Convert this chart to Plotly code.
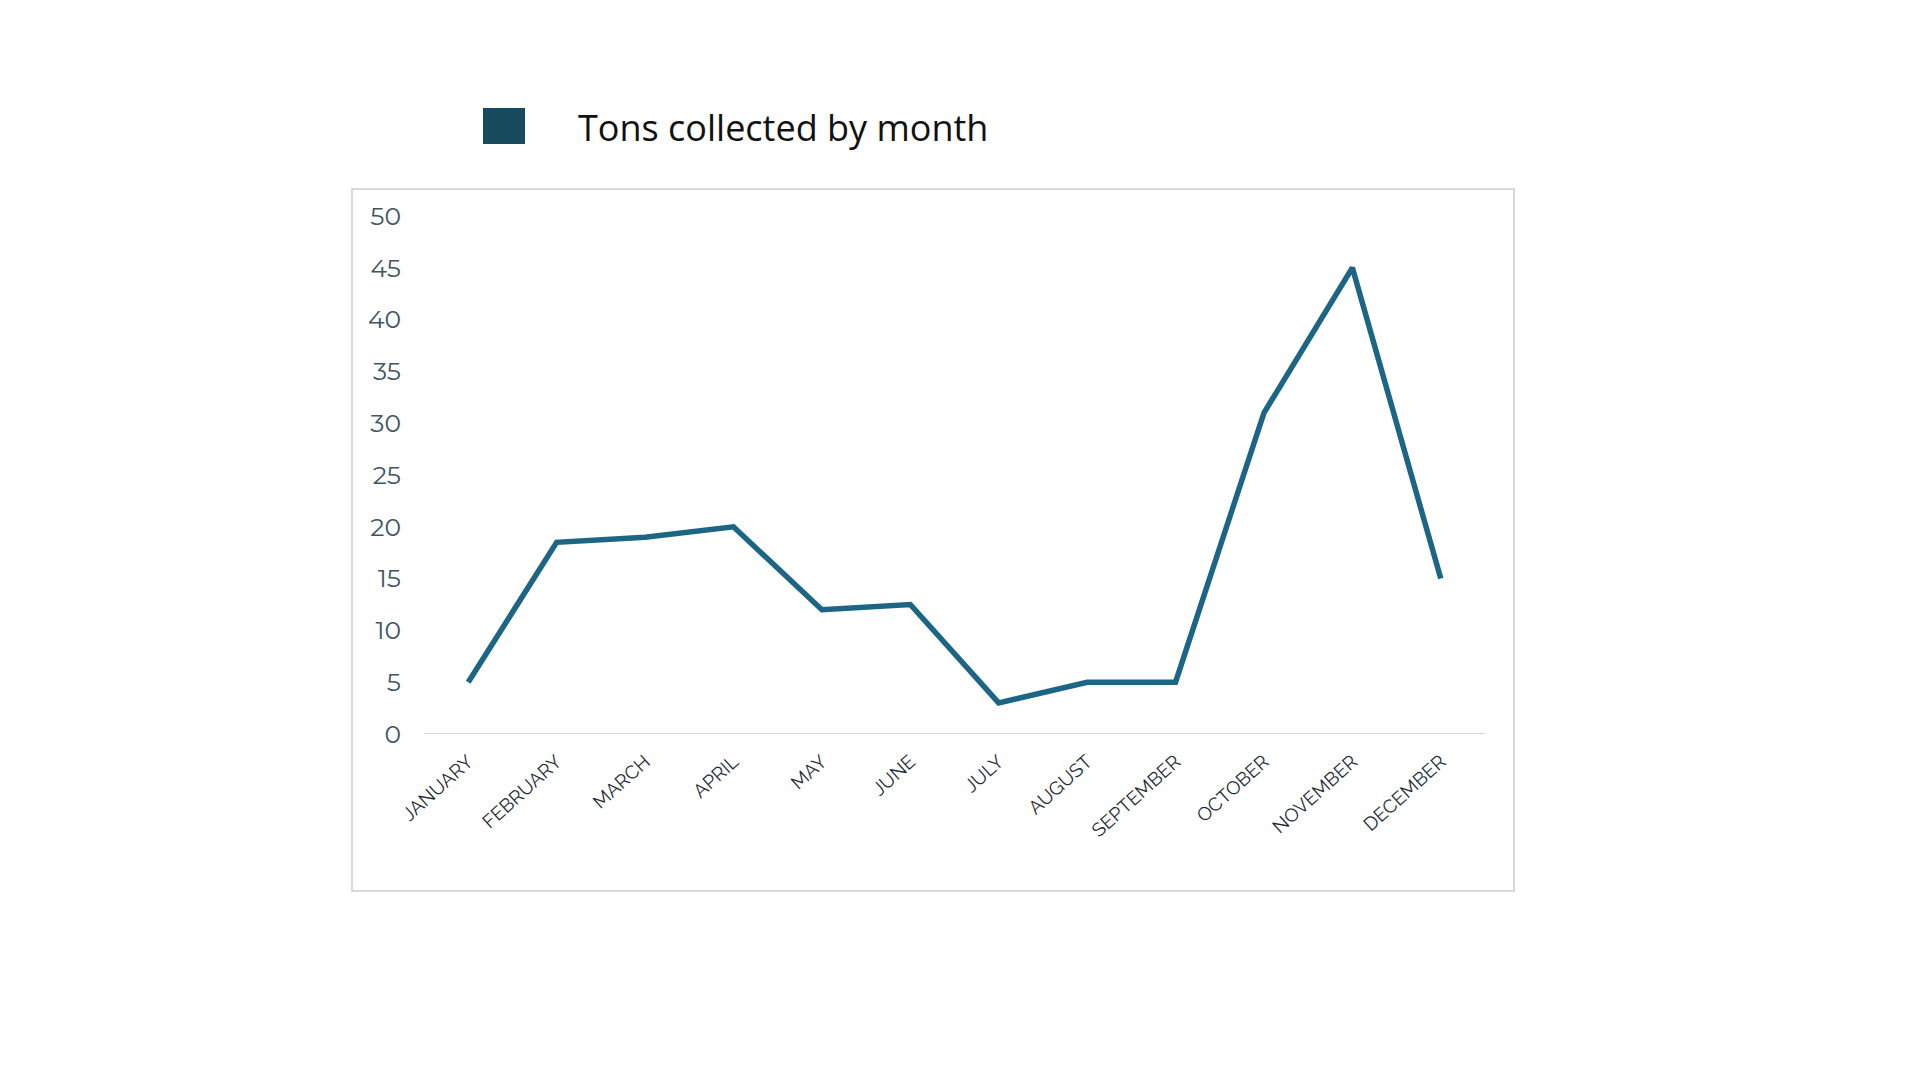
import plotly.graph_objects as go

months = ["JANUARY", "FEBRUARY", "MARCH", "APRIL", "MAY", "JUNE", "JULY",
          "AUGUST", "SEPTEMBER", "OCTOBER", "NOVEMBER", "DECEMBER"]
tons = [5, 18.5, 19, 20, 12, 12.5, 3, 5, 5, 31, 45, 15]
y_ticks = [0, 5, 10, 15, 20, 25, 30, 35, 40, 45, 50]
series_name = "Tons collected by month"

W, H = 1920, 1080
L, R, T, B = 424, 1485, 216, 734
pw, ph = R - L, B - T

def px_x(p):
    return (p - L) / pw

def px_y(p):
    return (B - p) / ph

fig = go.Figure()
fig.add_trace(go.Scatter(
    x=months, y=tons, mode="lines", name=series_name,
    line=dict(color="#1d6585", width=5.5), showlegend=False,
    cliponaxis=False,
))

fig.update_layout(
    width=W, height=H,
    margin=dict(l=L, r=W - R, t=T, b=H - B, pad=0),
    paper_bgcolor="white", plot_bgcolor="white",
    xaxis=dict(
        type="category", range=[-0.5, len(months) - 0.5],
        showgrid=False, zeroline=False,
        showline=False, ticks="", tickangle=-42,
        tickfont=dict(family="Raleway, Lato, sans-serif", size=19, color="#1f2b38"),
        ticklabelstandoff=12,
    ),
    yaxis=dict(
        range=[0, 50], tickvals=y_ticks, showgrid=False,
        zeroline=False, showline=False, ticks="",
        tickfont=dict(family="Montserrat, Lato, sans-serif", size=25, color="#3e5666"),
        ticklabelstandoff=22,
    ),
    shapes=[
        dict(type="rect", xref="paper", yref="paper",
             x0=px_x(352), x1=px_x(1514), y0=px_y(891), y1=px_y(189),
             line=dict(color="#d9d9d9", width=2), fillcolor="rgba(0,0,0,0)", layer="below"),
        dict(type="line", xref="paper", yref="y",
             x0=0, x1=1, y0=0, y1=0,
             line=dict(color="#d9d9d9", width=2), layer="below"),
        dict(type="rect", xref="paper", yref="paper",
             x0=px_x(483), x1=px_x(525), y0=px_y(144), y1=px_y(108),
             line=dict(width=0), fillcolor="#174a5c"),
    ],
    annotations=[
        dict(text=series_name, xref="paper", yref="paper",
             x=px_x(576), y=px_y(127), xanchor="left", yanchor="middle",
             showarrow=False,
             font=dict(family="Open Sans, sans-serif", size=36, color="#111111")),
    ],
)

fig.write_html("out.html")
